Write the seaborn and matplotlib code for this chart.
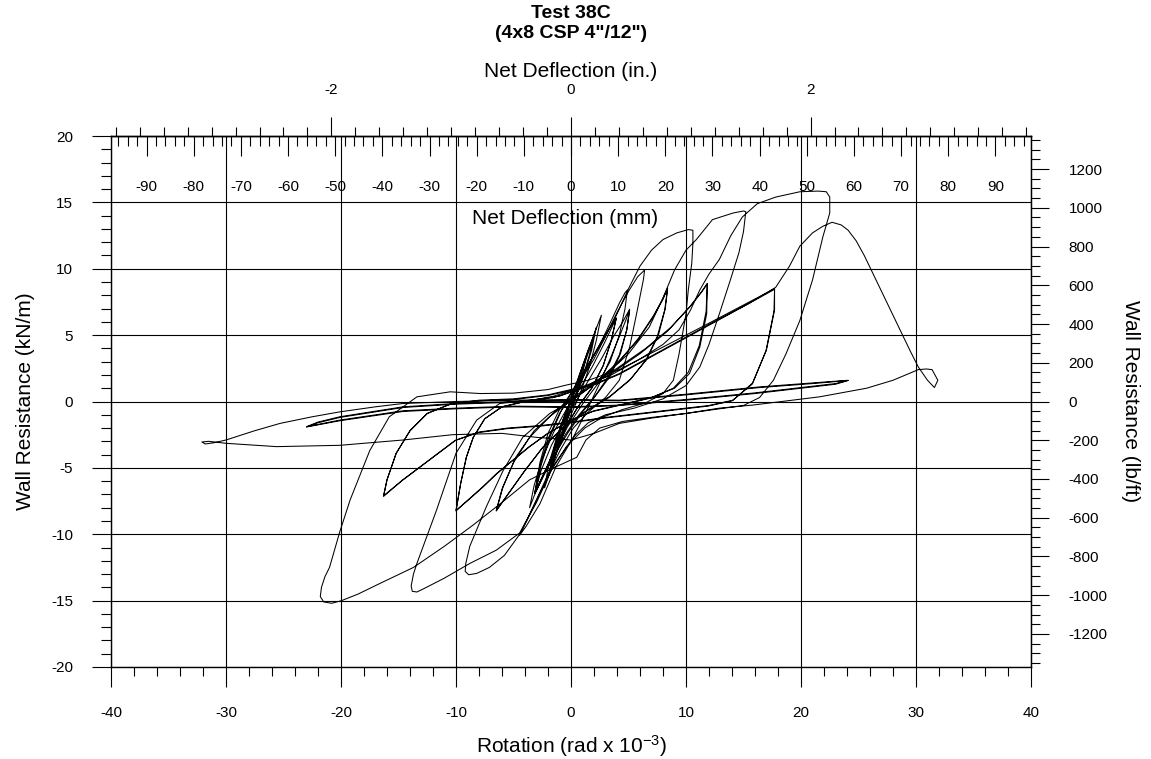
import numpy as np
import pandas as pd
import matplotlib
matplotlib.use("Agg")
import matplotlib.pyplot as plt
from matplotlib.ticker import MultipleLocator
import seaborn as sns

# Hysteresis record: (rotation [rad x 1e-3], wall resistance [kN/m]) in test order
initial_cycles = [
    (0, 0), (0.3, 0.8), (0.6, 1.6),
    (0.4, 0.9), (0, 0.1), (-0.3, -0.8), (-0.6, -1.7),
    (-0.4, -0.9), (0, 0), (0.5, 1.2), (1.0, 2.5), (1.3, 3.3),
    (1.0, 2.1), (0.5, 0.8), (0, -0.3), (-0.6, -1.8), (-1.2, -3.3),
    (-0.9, -2.2), (-0.4, -0.8), (0.2, 0.6), (0.9, 2.4), (1.5, 3.9), (2.0, 5.0),
    (1.6, 3.5), (1.0, 1.8), (0.3, 0.1), (-0.5, -1.8), (-1.2, -3.7), (-1.8, -5.2),
    (-1.4, -3.6), (-0.8, -1.7), (0, 0.2), (0.8, 2.2), (1.6, 4.1), (2.2, 5.5), (2.64, 6.5),
    (2.2, 4.6), (1.6, 2.6), (0.8, 0.6), (0, -1.0), (-0.8, -2.8), (-1.6, -4.7), (-2.3, -6.5),
    (-1.9, -4.6), (-1.2, -2.6), (-0.4, -0.7), (0.4, 1.0), (1.2, 2.9), (1.8, 4.4), (2.2, 5.6),
    (1.8, 3.9), (1.1, 1.9), (0.3, 0.1), (-0.5, -1.8), (-1.2, -3.6), (-1.9, -5.4),
    (-1.5, -3.6), (-0.8, -1.6), (0, 0.1), (0.9, 1.8), (1.9, 3.4), (2.9, 4.9), (3.5, 5.7), (3.94, 6.26),
    (3.5, 4.6), (2.8, 2.7), (1.8, 1.0), (0.6, -0.4), (-0.5, -2.0), (-1.5, -3.8), (-2.4, -5.5), (-3.15, -6.9),
]

pre_cycles = [
    (-2.7, -4.9), (-2.0, -2.8), (-1.0, -0.9), (0, 0.4), (1.2, 2.2), (2.4, 4.1), (3.4, 5.9), (4.2, 7.4),
    (4.7, 8.2), (4.9, 8.4),
    (4.7, 7.0), (4.2, 5.0), (3.4, 3.0), (2.3, 1.3), (1.0, -0.2), (-0.3, -1.9), (-1.4, -3.7), (-2.4, -5.6),
    (-3.2, -7.1), (-3.6, -8.0),
    (-3.2, -6.3), (-2.5, -4.3), (-1.5, -2.3), (-0.4, -0.6), (0.8, 1.0), (1.9, 2.7), (2.9, 4.4), (3.5, 5.5), (3.94, 6.3),
    (3.5, 4.6), (2.8, 2.7), (1.8, 1.0), (0.6, -0.4), (-0.5, -2.0), (-1.5, -3.8), (-2.4, -5.5), (-3.15, -6.9),
]

group1 = [
    (-2.7, -4.6), (-2.0, -2.4), (-1.0, -0.6), (0, 0.6), (1.0, 1.8), (2.0, 3.2), (3.0, 4.9), (4.0, 6.7),
    (5.0, 8.3), (5.8, 9.4), (6.4, 9.9),
    (6.3, 9.2), (5.7, 6.6), (5.1, 4.1), (4.2, 1.6), (3.0, 0.3), (1.5, -0.8), (0.2, -2.0), (-0.9, -3.6),
    (-2.0, -5.5), (-3.0, -7.4), (-3.8, -8.9), (-4.3, -9.8), (-4.46, -10.07),
    (-3.9, -9.4), (-2.7, -7.7), (-1.3, -4.9), (0.2, -2.7), (1.3, -0.8), (2.4, 1.2), (3.4, 3.2), (4.3, 5.1),
    (4.8, 6.2), (5.1, 6.9),
    (4.85, 5.4), (4.3, 3.6), (3.4, 1.9), (2.2, 0.5), (0.9, -0.9), (-0.3, -2.4), (-1.4, -4.0), (-2.4, -5.6), (-3.15, -6.9),
    (-2.6, -5.2), (-1.7, -3.3), (-0.6, -1.5), (0.5, 0.1), (1.6, 1.7), (2.7, 3.3), (3.7, 4.9), (4.5, 6.0), (5.1, 6.95),
    (4.85, 5.4), (4.2, 3.5), (3.2, 1.8), (2.0, 0.3), (0.7, -1.0), (-0.5, -2.5), (-1.5, -4.1), (-2.4, -5.6), (-3.1, -6.85),
]

group2 = [
    (-2.6, -4.8), (-1.8, -2.6), (-0.8, -0.6), (0.3, 1.1), (1.5, 2.8), (2.8, 4.6), (4.0, 6.6), (5.0, 8.5),
    (6.0, 10.2), (7.0, 11.4), (8.0, 12.2), (9.2, 12.7), (10.2, 12.95), (10.6, 12.9),
    (10.6, 11.9), (10.5, 10.4), (10.2, 8.4), (10.0, 6.6), (9.4, 3.6), (8.9, 1.6), (8.0, 0.6), (6.5, -0.1),
    (4.5, -0.6), (2.7, -1.2), (1.2, -2.0), (-0.4, -3.4), (-1.8, -5.3), (-3.2, -7.8), (-4.46, -10.0),
    (-5.8, -11.6), (-7.1, -12.5), (-8.2, -12.95), (-8.9, -13.05), (-9.2, -12.8), (-9.15, -12.2),
    (-8.8, -10.9), (-7.35, -7.9), (-5.9, -5.2), (-4.2, -2.7), (-1.85, -0.9), (0.15, 0.1), (2.0, 1.3),
    (4.0, 2.9), (5.8, 4.6), (7.1, 6.3), (7.9, 7.6), (8.4, 8.5),
    (8.2, 7.0), (7.6, 5.0), (6.6, 3.2), (5.2, 1.7), (3.4, 0.4), (1.5, -0.6), (-0.5, -1.8), (-2.4, -3.4),
    (-4.0, -5.2), (-5.4, -6.9), (-6.5, -8.2),
    (-6.0, -6.6), (-5.0, -4.6), (-3.6, -2.7), (-1.8, -1.1), (0.2, 0.2), (2.2, 1.4), (4.2, 3.0), (5.9, 4.8),
    (7.2, 6.5), (8.0, 7.7), (8.4, 8.55),
    (8.15, 6.9), (7.5, 4.9), (6.5, 3.1), (5.1, 1.6), (3.3, 0.3), (1.4, -0.7), (-0.6, -1.9), (-2.5, -3.5),
    (-4.1, -5.3), (-5.5, -7.0), (-6.5, -8.25),
]

group3 = [
    (-5.9, -6.4), (-4.8, -4.2), (-3.2, -2.2), (-1.2, -0.6), (1.0, 0.8), (3.0, 2.0), (5.0, 3.6), (6.8, 5.6),
    (8.0, 7.8), (9.0, 9.9), (10.0, 11.4), (10.9, 12.2), (12.3, 13.7), (14.1, 14.2), (15.0, 14.35), (15.2, 14.3),
    (15.0, 12.8), (14.6, 11.2), (13.8, 9.0), (12.9, 6.6), (12.0, 4.3), (11.2, 2.6), (10.0, 1.2), (8.0, 0.2),
    (5.5, -0.5), (3.0, -1.0), (1.5, -1.6), (0.3, -2.6), (-1.5, -4.8), (-3.0, -7.6), (-4.46, -9.9),
    (-6.5, -11.2), (-8.8, -12.2), (-11.0, -13.3), (-12.8, -14.1), (-13.4, -14.35), (-13.8, -14.3),
    (-13.9, -13.9), (-13.7, -13.0),
    (-13.4, -12.2), (-11.7, -8.2), (-10.0, -3.9), (-8.2, -1.4), (-6.2, -0.15), (-3.5, 0.1), (-1.0, 0.4),
    (1.5, 1.2), (4.0, 2.5), (6.5, 4.0), (8.7, 5.6), (10.4, 7.2), (11.4, 8.3), (11.85, 8.85),
    (11.8, 6.6), (11.2, 4.1), (10.3, 2.1), (9.0, 1.0), (7.0, 0.3), (4.5, -0.2), (2.0, -0.7), (0, -1.4),
    (-2.0, -2.4), (-3.6, -3.4), (-5.0, -4.4), (-6.4, -5.4), (-7.6, -6.4), (-8.9, -7.4), (-10.0, -8.2),
    (-9.6, -6.2), (-9.1, -4.2), (-8.5, -2.7), (-7.5, -1.3), (-6.0, -0.4), (-4.0, 0.0), (-1.5, 0.3),
    (1.0, 1.0), (3.5, 2.1), (6.0, 3.6), (8.4, 5.3), (10.3, 7.1), (11.3, 8.2), (11.85, 8.9),
    (11.75, 6.8), (11.15, 4.2), (10.2, 2.2), (8.9, 1.0), (6.9, 0.25), (4.4, -0.25), (1.9, -0.75),
    (-0.1, -1.45), (-2.1, -2.45), (-3.7, -3.45), (-5.1, -4.45), (-6.5, -5.45), (-7.7, -6.45),
    (-9.0, -7.45), (-10.0, -8.25),
]

group4 = [
    (-9.6, -6.2), (-9.1, -4.2), (-8.5, -2.7), (-7.5, -1.3), (-6.0, -0.4), (-4.0, 0.0), (-1.5, 0.4),
    (1.0, 1.1), (3.5, 2.0), (6.0, 3.2), (8.0, 4.3), (9.4, 5.4), (10.4, 6.9), (11.2, 8.4), (12.0, 9.6),
    (12.9, 10.7), (13.9, 12.5), (14.9, 13.9), (16.2, 14.9), (17.8, 15.4), (19.9, 15.8), (21.5, 15.85),
    (22.2, 15.8), (22.5, 15.4),
    (22.5, 14.2), (21.9, 12.4), (21.0, 9.15), (19.9, 6.1), (18.7, 3.6), (17.6, 1.6), (16.4, 0.3),
    (15.0, -0.3), (12.9, -0.55), (10.0, -0.9), (7.0, -1.2), (4.5, -1.5), (2.5, -2.0), (1.3, -2.9),
    (0.5, -4.2), (-1.5, -5.0), (-3.6, -5.9), (-6.0, -7.6), (-8.5, -9.3), (-11.0, -10.9), (-13.7, -12.5),
    (-16.6, -13.7), (-18.5, -14.5), (-19.95, -15.0), (-20.8, -15.2), (-21.5, -15.1), (-21.8, -14.7),
    (-21.7, -14.0), (-21.4, -13.2),
    (-21.0, -12.5), (-20.1, -9.8), (-19.2, -7.4), (-17.5, -3.7), (-15.8, -1.15), (-13.4, 0.35),
    (-10.5, 0.73), (-7.9, 0.6), (-5.0, 0.63), (-2.0, 0.9), (-0.4, 1.24), (1.5, 1.6), (4.2, 2.4),
    (8.0, 4.1), (12.0, 5.9), (15.5, 7.5), (17.7, 8.5),
    (17.7, 6.9), (17.0, 3.9), (15.8, 1.4), (14.1, 0.1), (12.0, -0.3), (9.0, -0.6), (6.0, -0.9),
    (3.0, -1.2), (0.5, -1.5), (-2.5, -1.8), (-5.5, -2.0), (-8.0, -2.3), (-10.0, -2.9), (-12.3, -4.4),
    (-14.6, -5.9), (-16.3, -7.1),
    (-16.0, -5.9), (-15.2, -3.9), (-14.0, -2.2), (-12.5, -0.9), (-10.5, -0.2), (-8.0, 0.1), (-5.0, 0.2),
    (-2.0, 0.5), (0.0, 0.9), (2.0, 1.3), (4.2, 2.1), (8.0, 3.9), (12.0, 5.8), (15.5, 7.4), (17.7, 8.45),
    (17.65, 6.8), (16.95, 3.8), (15.75, 1.3), (14.0, 0.05), (11.9, -0.35), (8.9, -0.65), (5.9, -0.95),
    (2.9, -1.25), (0.4, -1.55), (-2.6, -1.85), (-5.6, -2.05), (-8.1, -2.35), (-10.1, -2.95),
    (-12.4, -4.45), (-14.7, -5.95), (-16.3, -7.15),
]

group5 = [
    (-16.0, -5.9), (-15.2, -3.9), (-14.0, -2.2), (-12.5, -0.9), (-10.5, -0.2), (-8.0, 0.05), (-5.0, 0.15),
    (-2.0, 0.45), (0.0, 0.85), (2.0, 1.25), (4.2, 2.05), (8.0, 3.85), (12.0, 5.75), (15.5, 7.4),
    (17.8, 8.6), (19.0, 10.2), (19.9, 11.7), (21.0, 12.7), (21.9, 13.2), (22.7, 13.5), (23.5, 13.3),
    (24.1, 12.9), (24.8, 12.1), (25.5, 11.0), (26.5, 9.2), (27.5, 7.4), (28.5, 5.6), (29.5, 3.8),
    (30.2, 2.6), (31.0, 1.6), (31.6, 1.05), (31.9, 1.6), (31.4, 2.4), (30.9, 2.45), (30.2, 2.4),
    (28.0, 1.6), (25.7, 1.0), (21.6, 0.35), (15.8, -0.27), (12.9, -0.5), (10.0, -0.9), (7.0, -1.25),
    (4.2, -1.65), (2.0, -2.4), (0.0, -2.9), (-3.0, -2.7), (-6.0, -2.4), (-10.3, -2.5), (-14.6, -2.9),
    (-20.1, -3.3), (-25.6, -3.4), (-30.0, -3.15), (-31.5, -3.0), (-32.1, -3.05), (-31.8, -3.2),
    (-31.0, -3.1), (-30.0, -2.9), (-27.5, -2.2), (-25.3, -1.65), (-22.5, -1.15), (-20.1, -0.78),
    (-17.0, -0.4), (-14.6, -0.15), (-10.0, 0.0), (-5.0, 0.1), (0.0, 0.15), (4.2, 0.1),
]

final_cycles = [
    (10.0, 0.55), (16.4, 1.1), (21.0, 1.4), (24.1, 1.6),
    (23.0, 1.35), (20.0, 1.05), (16.0, 0.65), (10.0, 0.15), (4.2, -0.27), (0.0, -0.4), (-5.0, -0.35),
    (-10.0, -0.5), (-14.6, -0.7), (-20.1, -1.4), (-23.0, -1.9),
    (-22.0, -1.55), (-20.1, -1.15), (-14.6, -0.4), (-10.0, -0.15), (-5.0, 0.0), (0.0, 0.1), (4.2, 0.05),
    (10.0, 0.5), (16.4, 1.05), (21.0, 1.35), (24.1, 1.58),
    (23.0, 1.3), (20.0, 1.0), (16.0, 0.6), (10.0, 0.1), (4.2, -0.3), (0.0, -0.45), (-5.0, -0.4),
    (-10.0, -0.55), (-14.6, -0.75), (-20.1, -1.45), (-23.0, -1.92),
    (-22.0, -1.6), (-20.1, -1.2), (-14.6, -0.45), (-10.0, -0.2), (-5.0, -0.05), (0.0, 0.0),
]

x_ticks = [-40, -30, -20, -10, 0, 10, 20, 30, 40]
y_ticks = [-20, -15, -10, -5, 0, 5, 10, 15, 20]
inch_ticks = [-2, 0, 2]
lbft_ticks = [-1200, -1000, -800, -600, -400, -200, 0, 200, 400, 600, 800, 1000, 1200]

WALL_HEIGHT_MM = 2438.4          # 8 ft wall: 1e-3 rad -> 2.4384 mm
MM_PER_ROT = WALL_HEIGHT_MM / 1000.0
IN_PER_ROT = MM_PER_ROT / 25.4
LBFT_PER_KNM = 68.5218

record = np.array(initial_cycles + pre_cycles + group1 + group2 + group3 + group4 + group5 + final_cycles)
df = pd.DataFrame({"rotation": record[:, 0], "resistance": record[:, 1]})

sns.set_style("white")
plt.rcParams["font.family"] = ["Liberation Sans", "DejaVu Sans"]
plt.rcParams["mathtext.fontset"] = "custom"
plt.rcParams["mathtext.rm"] = "Liberation Sans"
plt.rcParams["mathtext.it"] = "Liberation Sans:italic"
plt.rcParams["mathtext.bf"] = "Liberation Sans:bold"
plt.rcParams["axes.unicode_minus"] = False
plt.rcParams["text.color"] = "black"
plt.rcParams["axes.labelcolor"] = "black"
plt.rcParams["xtick.color"] = "black"
plt.rcParams["ytick.color"] = "black"

fig = plt.figure(figsize=(11.51, 7.59), dpi=100)
ax = fig.add_axes([111 / 1151, 92 / 759, 920 / 1151, 531 / 759])

ax.grid(True, which="major", color="black", linewidth=0.8)
ax.set_axisbelow(True)

sns.lineplot(data=df, x="rotation", y="resistance", sort=False, estimator=None,
             color="black", linewidth=0.75, ax=ax)

ax.set_xlim(-40, 40)
ax.set_ylim(-20, 20)
ax.set_xticks(x_ticks)
ax.set_yticks(y_ticks)
ax.xaxis.set_minor_locator(MultipleLocator(2))
ax.yaxis.set_minor_locator(MultipleLocator(1))
for s in ax.spines.values():
    s.set_color("black")
    s.set_linewidth(1.0)

ax.tick_params(axis="x", which="major", direction="out", length=14.4, width=0.8,
               labelsize=11, pad=14, top=False, bottom=True)
ax.tick_params(axis="x", which="minor", direction="out", length=6.5, width=0.8, top=False, bottom=True)
ax.tick_params(axis="y", which="major", direction="out", length=13.7, width=0.8,
               labelsize=11, pad=13.5, right=False, left=True)
ax.tick_params(axis="y", which="minor", direction="out", length=7.2, width=0.8, right=False, left=True)

ax.set_xlabel(r"Rotation (rad x 10$^{-3}$)", fontsize=15, labelpad=9)
ax.set_ylabel("Wall Resistance (kN/m)", fontsize=15, labelpad=12)

# Net deflection in millimetres: ticks and labels inside the frame
sec_mm = ax.secondary_xaxis("top", functions=(lambda r: r * MM_PER_ROT, lambda d: d / MM_PER_ROT))
sec_mm.xaxis.set_major_locator(MultipleLocator(10))
sec_mm.xaxis.set_minor_locator(MultipleLocator(2))
sec_mm.tick_params(which="major", direction="in", length=14.4, width=0.8, labelsize=11, pad=-42)
sec_mm.tick_params(which="minor", direction="in", length=7.2, width=0.8)
sec_mm.spines["top"].set_linewidth(1.0)
ax.text(0.4935, 0.8437, "Net Deflection (mm)", transform=ax.transAxes,
        ha="center", va="center", fontsize=15)

# Net deflection in inches: ticks above the frame
sec_in = ax.secondary_xaxis("top", functions=(lambda r: r * IN_PER_ROT, lambda i: i / IN_PER_ROT))
sec_in.set_xticks(inch_ticks)
sec_in.xaxis.set_minor_locator(MultipleLocator(0.2))
sec_in.tick_params(which="major", direction="out", length=13.7, width=0.8, labelsize=11, pad=14.5)
sec_in.tick_params(which="minor", direction="out", length=6.5, width=0.8)
sec_in.set_xlabel("Net Deflection (in.)", fontsize=15, labelpad=4)

# Wall resistance in lb/ft on the right
sec_lb = ax.secondary_yaxis("right", functions=(lambda k: k * LBFT_PER_KNM, lambda l: l / LBFT_PER_KNM))
sec_lb.set_yticks(lbft_ticks)
sec_lb.yaxis.set_minor_locator(MultipleLocator(50))
sec_lb.tick_params(which="major", direction="out", length=13, width=0.8, labelsize=11, pad=14)
sec_lb.tick_params(which="minor", direction="out", length=6.5, width=0.8)
sec_lb.set_ylabel("Wall Resistance (lb/ft)", fontsize=15, rotation=270, va="bottom", labelpad=10)

fig.text(571 / 1151, 1 - 13 / 759, "Test 38C", ha="center", va="center",
         fontsize=14, fontweight="bold")
fig.text(571 / 1151, 1 - 34 / 759, "(4x8 CSP 4\"/12\")", ha="center", va="center",
         fontsize=14, fontweight="bold")

fig.savefig("out.png", dpi=100)
